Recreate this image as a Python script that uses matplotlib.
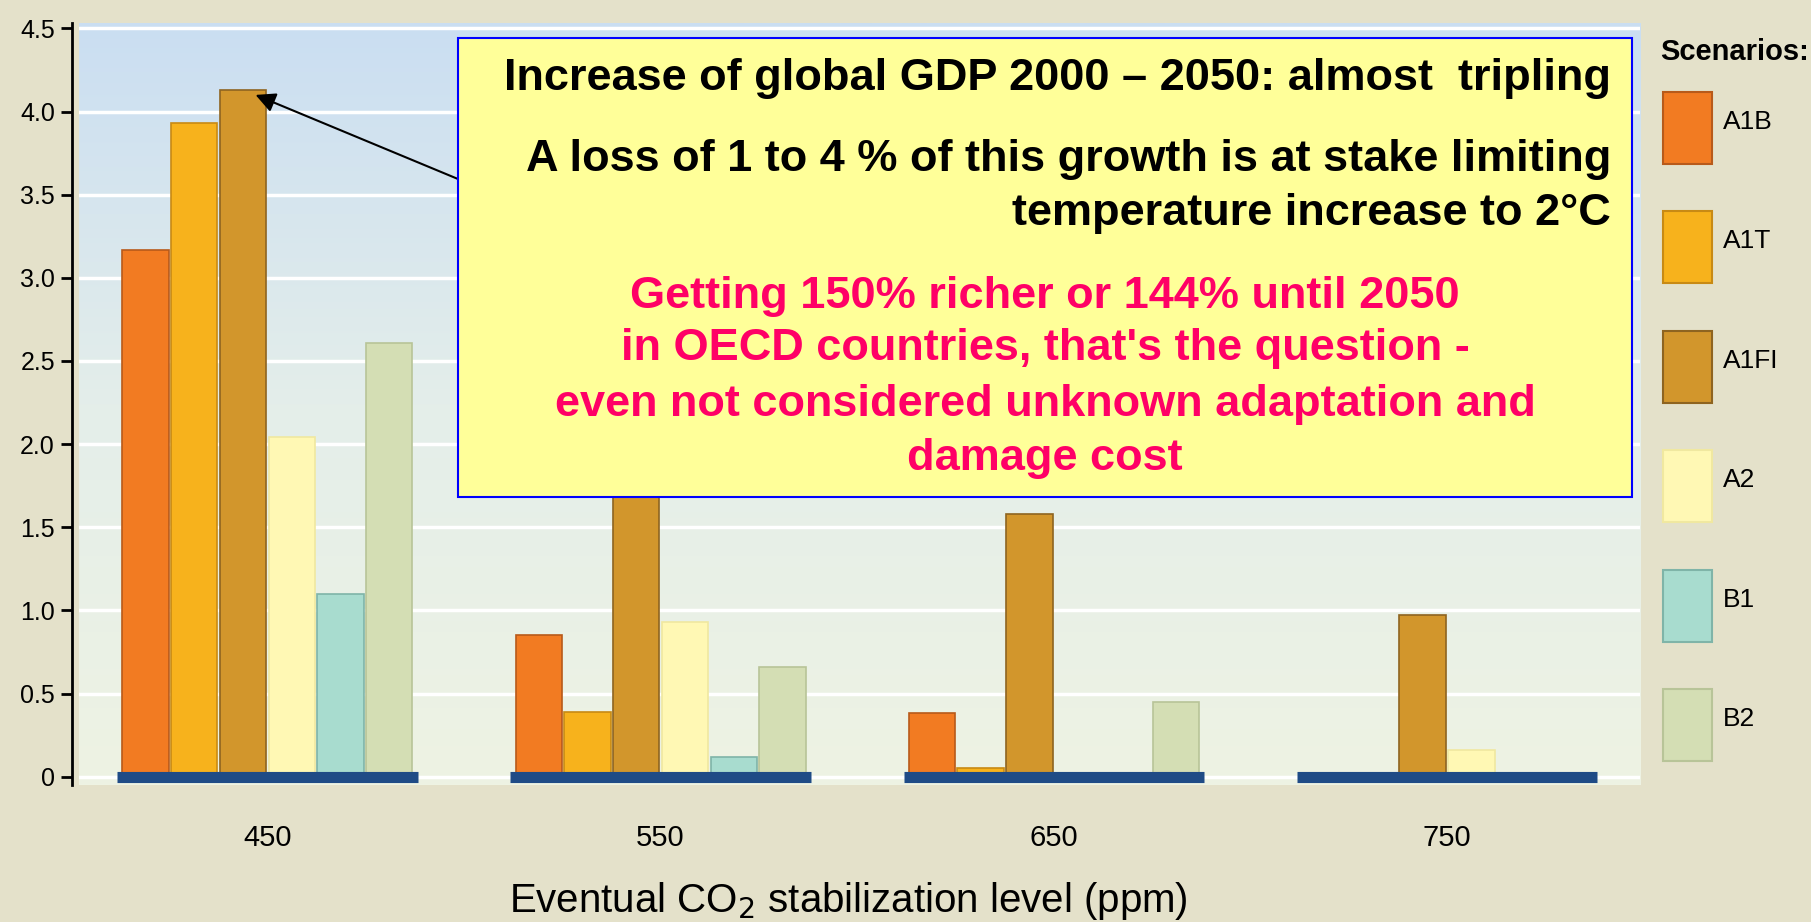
import numpy as np
import matplotlib
matplotlib.use("Agg")
import matplotlib.pyplot as plt
from matplotlib.patches import Rectangle
from matplotlib.colors import LinearSegmentedColormap

plt.rcParams['font.family'] = ['Liberation Sans', 'DejaVu Sans']

levels = ["450", "550", "650", "750"]
scenarios = ["A1B", "A1T", "A1FI", "A2", "B1", "B2"]
a1b = [3.17, 0.85, 0.38, 0.0]
a1t = [3.93, 0.39, 0.05, 0.0]
a1fi = [4.13, 1.90, 1.58, 0.97]
a2 = [2.04, 0.93, 0.0, 0.16]
b1 = [1.10, 0.12, 0.0, 0.0]
b2 = [2.61, 0.66, 0.45, 0.0]
series = [a1b, a1t, a1fi, a2, b1, b2]
colors = ["#F27B22", "#F7B21C", "#D2962C", "#FFF8B4", "#A8DCCF", "#D4DEB4"]
edges = ["#B85A1A", "#C88A14", "#8E6420", "#F0E8A0", "#7FB4A8", "#B8C498"]
yticks = [0, 0.5, 1.0, 1.5, 2.0, 2.5, 3.0, 3.5, 4.0, 4.5]
ylabels = ["0", "0.5", "1.0", "1.5", "2.0", "2.5", "3.0", "3.5", "4.0", "4.5"]

fig = plt.figure(figsize=(18.11, 9.22), dpi=100, facecolor="#E4E1CA")
ax = fig.add_axes([0.0434, 0.1486, 0.862, 0.826])

# plot background gradient
grad = np.linspace(0, 1, 256).reshape(-1, 1)
cmap = LinearSegmentedColormap.from_list("bg", ["#EEF3E3", "#E4EEEA", "#CADEF2"])
ax.imshow(grad, extent=[0, 1, 0, 1], transform=ax.transAxes, origin="lower",
          aspect="auto", cmap=cmap, zorder=0)

x = np.arange(len(levels))
w = 0.124
for i, vals in enumerate(series):
    ax.bar(x + (i - 2.5) * w, vals, width=w * 0.95, color=colors[i],
           edgecolor=edges[i], linewidth=1.2, zorder=3)

# dark baseline under each group
ax.hlines([0] * len(x), x - 3 * w - 0.01, x + 3 * w + 0.01, colors="#1F4B86",
          linewidth=8, zorder=4)

ax.set_xlim(-0.48, 3.49)
ax.set_ylim(-0.05, 4.53)
ax.set_yticks(yticks)
ax.set_yticklabels(ylabels)
ax.set_xticks(x)
ax.set_xticklabels(levels)
ax.tick_params(axis="x", length=0, pad=28, labelsize=21)
ax.tick_params(axis="y", direction="out", length=8, width=2, pad=4, labelsize=18)
ax.yaxis.grid(True, color="white", linewidth=2.5, zorder=1)
ax.set_axisbelow(True)
for s in ["top", "right", "bottom"]:
    ax.spines[s].set_visible(False)
ax.spines["left"].set_linewidth(2)
ax.spines["left"].set_position(("outward", 5))
ax.set_xlabel("Eventual CO$_2$ stabilization level (ppm)", fontsize=29)
ax.xaxis.set_label_coords(0.493, -0.125)

# arrow from the box to the tallest bar
ax.annotate("", xy=(-0.03, 4.1), xytext=(458, 922 - 179), textcoords="figure pixels",
            arrowprops=dict(arrowstyle="-|>", color="black", lw=1.5,
                            mutation_scale=30, shrinkA=0, shrinkB=0))

# yellow note box
box = Rectangle((0.2529, 0.461), 0.648, 0.498, transform=fig.transFigure,
                facecolor="#FFFF99", edgecolor="#0000FF", linewidth=1.5, zorder=5)
fig.add_artist(box)
bold = dict(fontweight="bold", fontsize=32.5, zorder=6)
fig.text(0.8896, 0.915, "Increase of global GDP 2000 \u2013 2050: almost  tripling",
         ha="right", va="center", color="black", **bold)
fig.text(0.8896, 0.8272, "A loss of 1 to 4 % of this growth is at stake limiting",
         ha="right", va="center", color="black", **bold)
fig.text(0.8896, 0.7682, "temperature increase to 2\u00b0C",
         ha="right", va="center", color="black", **bold)
pink = ["Getting 150% richer or 144% until 2050",
        "in OECD countries, that's the question -",
        "even not considered unknown adaptation and",
        "damage cost"]
for line, yy in zip(pink, [0.678, 0.6217, 0.5616, 0.5027]):
    fig.text(0.577, yy, line, ha="center", va="center", color="#FF0066", **bold)

# legend
fig.text(0.9166, 0.9436, "Scenarios:", ha="left", va="center", fontsize=21,
         fontweight="bold")
for i, name in enumerate(scenarios):
    top = 92 + i * 119.4
    fig.add_artist(Rectangle((0.9183, 1 - (top + 72) / 922), 0.027, 72 / 922,
                             transform=fig.transFigure, facecolor=colors[i],
                             edgecolor=edges[i], linewidth=1.5))
    fig.text(0.9515, 1 - (top + 30) / 922, name, ha="left", va="center", fontsize=19)

fig.savefig("out.png", dpi=100, facecolor=fig.get_facecolor())
